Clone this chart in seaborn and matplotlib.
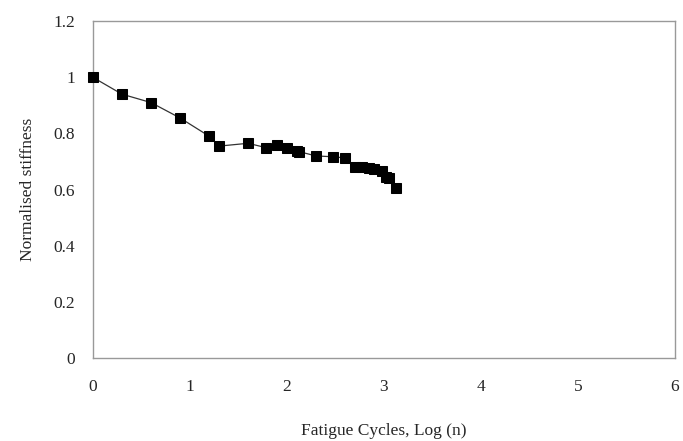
import matplotlib
matplotlib.use('Agg')
from matplotlib import pyplot as plt
import seaborn as sns
import pandas as pd

# data
log_cycles = [0.0, 0.3, 0.6, 0.9, 1.2, 1.3, 1.6, 1.78, 1.9, 2.0, 2.1, 2.13,
              2.3, 2.48, 2.6, 2.7, 2.77, 2.85, 2.9, 2.98, 3.02, 3.05, 3.13]
stiffness = [1.0, 0.94, 0.91, 0.855, 0.79, 0.755, 0.765, 0.75, 0.76, 0.75, 0.736, 0.735,
             0.72, 0.717, 0.713, 0.68, 0.68, 0.678, 0.675, 0.665, 0.645, 0.64, 0.607]
df = pd.DataFrame({'log_n': log_cycles, 'stiffness': stiffness})

sns.set_style('white')
plt.rcParams['font.family'] = ['Liberation Serif', 'DejaVu Serif']

fig = plt.figure(figsize=(6.83, 4.41), dpi=100)
ax = fig.add_axes([0.136, 0.188, 0.852, 0.764])

sns.lineplot(data=df, x='log_n', y='stiffness', ax=ax, color='#333333',
             linewidth=0.9, marker='s', markersize=6.5, markerfacecolor='black',
             markeredgecolor='black', sort=False, clip_on=False, zorder=5)

ax.set_xlim(0, 6)
ax.set_ylim(0, 1.2)
ax.set_xticks(range(0, 7))
ax.set_yticks([0, 0.2, 0.4, 0.6, 0.8, 1.0, 1.2])
ax.set_yticklabels(['0', '0.2', '0.4', '0.6', '0.8', '1', '1.2'])
ax.set_xlabel('Fatigue Cycles, Log (n)', fontsize=12.5, labelpad=20)
ax.set_ylabel('Normalised stiffness', fontsize=12.5, labelpad=12)
ax.tick_params(axis='both', labelsize=12.5, length=3, color='#999999', direction='out')
ax.tick_params(axis='x', pad=12)
ax.tick_params(axis='y', pad=10)
for s in ax.spines.values():
    s.set_color('#999999')
    s.set_linewidth(1)
    s.set_zorder(1)

plt.savefig('out.png', dpi=100)
